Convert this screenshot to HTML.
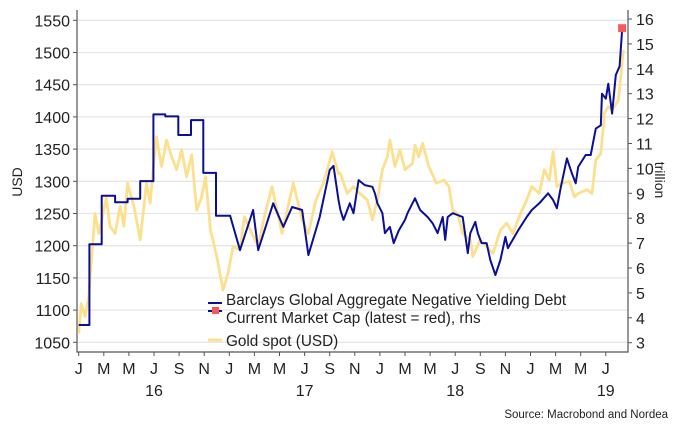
<!DOCTYPE html>
<html><head><meta charset="utf-8">
<style>
body{margin:0;background:#fff;font-family:"Liberation Sans",Arial,sans-serif;}
svg text{font-family:"Liberation Sans",Arial,sans-serif;}
</style></head>
<body>
<svg id="chart" width="680" height="430" xmlns="http://www.w3.org/2000/svg"></svg>
<script>
// months since Jan 2016
const debtMonths=[0,0.85,0.85,1.83,1.83,2.9,2.9,3.9,3.9,4.9,4.9,5.95,5.95,6.9,6.9,7.94,7.94,8.95,8.95,9.93,9.93,10.94,10.94,12.06,12.85,13.9,14.3,15.5,16.3,17,17.8,18.3,19.2,20,20.3,20.7,20.85,21.1,21.6,21.9,22.3,22.8,23.4,23.6,23.8,24.2,24.4,24.8,25.1,25.5,26.0,26.2,26.8,27.2,27.8,28.2,28.6,29.0,29.2,29.4,29.8,30.6,31.0,31.2,31.6,31.8,32.1,32.5,32.8,33.2,33.6,34.0,34.2,35.0,35.7,36.1,36.7,37.4,37.8,38.1,38.4,38.9,39.3,39.6,39.8,40.4,40.8,41.2,41.6,41.7,42.0,42.2,42.5,42.8,43.1,43.3];
const debtValues=[3.71,3.71,6.95,6.95,8.9,8.9,8.64,8.64,8.78,8.78,9.49,9.49,12.17,12.17,12.09,12.09,11.34,11.34,11.94,11.94,9.82,9.82,8.1,8.1,6.72,8.33,6.72,8.6,7.65,8.45,8.33,6.52,8.05,9.94,10.1,8.73,8.33,7.93,8.6,8.2,9.53,9.33,9.26,9.0,8.6,8.2,7.4,7.65,7.0,7.5,7.93,8.2,8.8,8.33,8.05,7.8,7.4,8.05,7.13,8.05,8.2,8.05,6.6,7.4,7.85,7.4,7.0,7.0,6.32,5.72,6.32,7.25,6.8,7.5,8.05,8.33,8.6,9.0,8.73,8.4,9.2,10.4,9.8,9.4,10.06,10.54,10.54,11.6,11.73,13.0,12.8,13.4,12.2,13.75,14.1,15.55];
const goldMonths=[0,0.2,0.5,0.8,1.3,1.6,2.2,2.5,2.9,3.3,3.6,3.9,4.4,4.9,5.4,5.7,5.95,6.2,6.6,7.0,7.4,7.8,8.2,8.6,9.0,9.4,9.8,10.1,10.5,11.0,11.5,11.9,12.3,12.85,13.2,13.8,14.3,14.8,15.4,16.2,17.1,17.8,18.3,18.9,19.5,20.2,20.7,20.85,21.4,21.9,22.4,23.0,23.4,23.8,24.2,24.6,24.8,25.2,25.6,26.0,26.6,26.8,27.1,27.4,27.9,28.5,29.1,29.5,29.8,30.2,30.6,31.2,31.4,32.0,32.5,33.0,33.6,34.1,34.6,35.2,35.7,36.1,36.7,37.1,37.5,37.8,38.1,38.5,39.1,39.5,39.8,40.5,40.9,41.2,41.6,41.9,42.2,42.5,43.0,43.4];
const goldValues=[1064,1110,1090,1121,1250,1219,1274,1230,1219,1261,1230,1297,1261,1209,1297,1266,1323,1369,1323,1364,1338,1318,1349,1307,1341,1255,1276,1307,1224,1183,1131,1157,1199,1193,1245,1219,1199,1245,1292,1219,1297,1240,1219,1271,1297,1346,1312,1312,1281,1292,1281,1271,1240,1271,1318,1338,1364,1323,1349,1318,1328,1356,1338,1359,1323,1297,1302,1292,1255,1250,1219,1209,1183,1209,1199,1188,1224,1235,1219,1250,1271,1292,1281,1318,1302,1346,1292,1297,1300,1276,1281,1287,1281,1333,1343,1406,1416,1411,1426,1504];
const leftTicks=[1050,1100,1150,1200,1250,1300,1350,1400,1450,1500,1550];
const rightTicks=[3,4,5,6,7,8,9,10,11,12,13,14,15,16];
const monthLabels=["J","M","M","J","S","N","J","M","M","J","S","N","J","M","M","J","S","N","J","M","M","J"];
const yearLabels=["16","17","18","19"];

const NS="http://www.w3.org/2000/svg";
const svg=document.getElementById('chart');
const X0=77,X1=628,Y0=10,Y1=352;
const xS=m=>78.7+m*12.55;
const yL=v=>342.3-(v-1050)*32.2/50;
const yR=v=>342.7-(v-3)*24.9;
function mk(tag,a,parent){const e=document.createElementNS(NS,tag);for(const k in a)e.setAttribute(k,a[k]);(parent||svg).appendChild(e);return e;}
function txt(s,a){const t=mk('text',a);t.textContent=s;return t;}

leftTicks.forEach(v=>{
  const g=mk('line',{x1:X0,x2:X1,y1:yL(v),y2:yL(v),stroke:'#e6e6e6','stroke-width':1.3});
  
  
  const tk=mk('line',{x1:X0-4,x2:X0,y1:yL(v),y2:yL(v),stroke:'#555'});
  
  
  const t=txt(v,{x:X0-7,y:yL(v)+6,'text-anchor':'end','font-size':16,fill:'#222'});
  
  
});
rightTicks.forEach(v=>{
  const tk=mk('line',{x1:X1,x2:X1+4,y1:yR(v),y2:yR(v),stroke:'#555'});
  
  
  const t=txt(v,{x:X1+8,y:yR(v)+6,'font-size':16,fill:'#222'});
  
  
});
monthLabels.forEach((s,i)=>{
  const x=xS(i*2);
  const tk=mk('line',{x1:x,x2:x,y1:Y1,y2:Y1+4,stroke:'#555'});
  
  
  const t=txt(s,{x:x,y:374,'text-anchor':'middle','font-size':16,fill:'#222'});
  
  
});
yearLabels.forEach((s,i)=>{
  const t=txt(s,{x:xS(i*12+6),y:396,'text-anchor':'middle','font-size':16,fill:'#222'});
  
  
});
const ax=mk('path',{d:`M${X0},${Y0}V${Y1}H${X1}V${Y0}`,fill:'none',stroke:'#555','stroke-width':1.2});



const gp=mk('path',{d:goldMonths.map((m,i)=>(i?'L':'M')+xS(m).toFixed(1)+','+yL(goldValues[i]).toFixed(1)).join(''),fill:'none',stroke:'#fde08e','stroke-width':2.8,'stroke-linejoin':'round'});


const dp=mk('path',{d:debtMonths.map((m,i)=>(i?'L':'M')+xS(m).toFixed(1)+','+yR(debtValues[i]).toFixed(1)).join(''),fill:'none',stroke:'#0a0f96','stroke-width':2,'stroke-linejoin':'round'});


const lm=debtMonths.length-1;
const rm=mk('rect',{x:xS(debtMonths[lm])-4,y:yR(debtValues[lm])-6,width:8,height:8,fill:'#f45a5a'});



// legend
const l1=mk('line',{x1:208,x2:222,y1:303,y2:303,stroke:'#0a0f96','stroke-width':2});


const l1b=mk('line',{x1:208,x2:222,y1:311,y2:311,stroke:'#0a0f96','stroke-width':2});


const l2=mk('rect',{x:212,y:307,width:7,height:7,fill:'#f45a5a'});


const l3=mk('line',{x1:208,x2:222,y1:340,y2:340,stroke:'#fde08e','stroke-width':3});


[["Barclays Global Aggregate Negative Yielding Debt",305,'legend-debt-label'],["Current Market Cap (latest = red), rhs",323,'legend-debt-label-2'],["Gold spot (USD)",346,'legend-gold-label']].forEach(a=>{
  const t=txt(a[0],{x:226,y:a[1],'font-size':15.3,fill:'#222'});
  
  
});
const ut=txt("USD",{x:0,y:0,'font-size':14,fill:'#222','text-anchor':'middle',transform:'translate(22,182) rotate(-90)'});


const tt=txt("trillion",{x:0,y:0,'font-size':14,fill:'#222','text-anchor':'middle',transform:'translate(655,180) rotate(90)'});


const st=txt("Source: Macrobond and Nordea",{x:668,y:418,'font-size':11.5,fill:'#222','text-anchor':'end'});


</script>
</body></html>
